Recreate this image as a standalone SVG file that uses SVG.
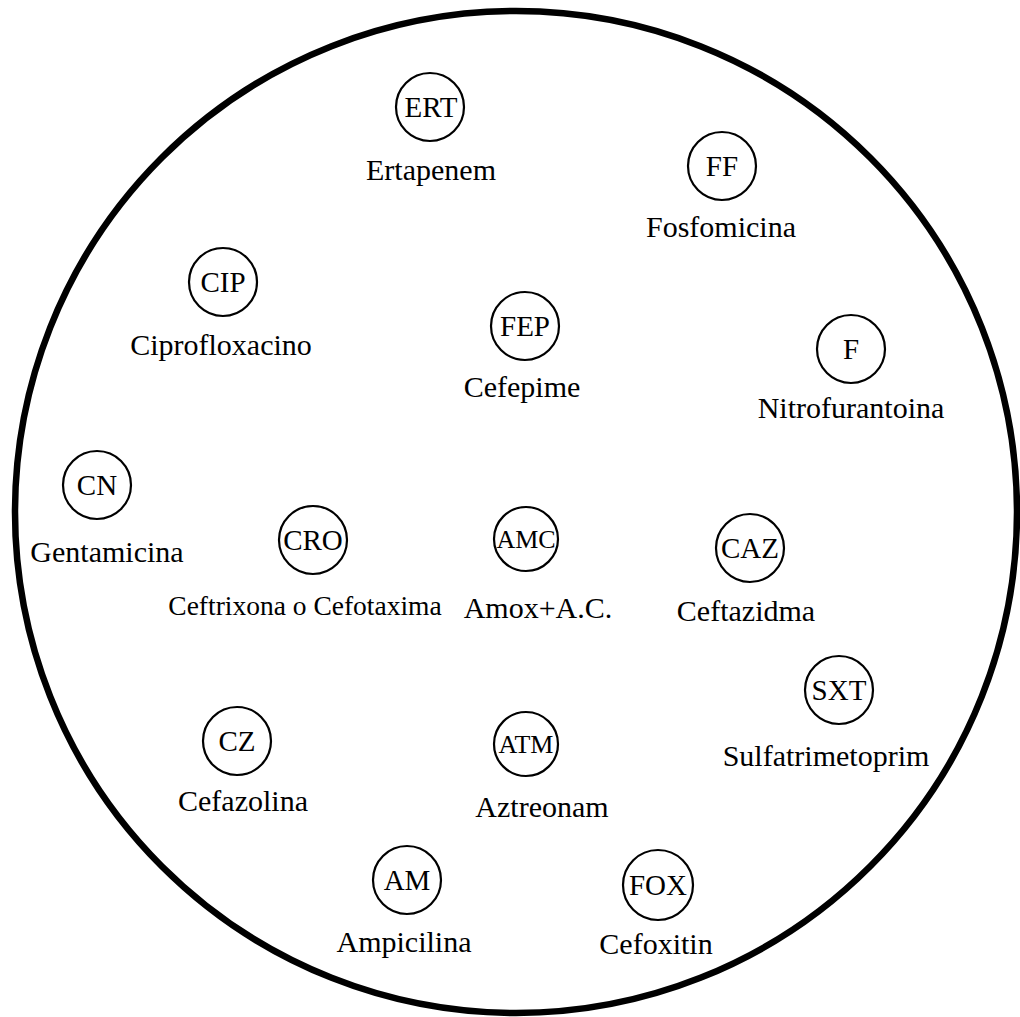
<svg xmlns="http://www.w3.org/2000/svg" width="1020" height="1017" viewBox="0 0 1020 1017">
<style>
.ring{fill:none;stroke:#000;stroke-width:2.2}
.code{font-family:'Liberation Serif','Tinos','DejaVu Serif',serif;font-size:29px;text-anchor:middle;fill:#000}
.lbl{font-family:'Liberation Serif','Tinos','DejaVu Serif',serif;font-size:30px;text-anchor:middle;fill:#000}
</style>
<rect width="1020" height="1017" fill="#fff"/>
<g id="plate"><circle cx="516" cy="512" r="501" fill="none" stroke="#000" stroke-width="6.5"/></g>
<g id="connectors"></g>
<g id="ERT"><circle class="ring" cx="430" cy="107" r="34"/><text class="code" x="431" y="117">ERT</text><text class="lbl" x="431" y="180">Ertapenem</text></g>
<g id="FF"><circle class="ring" cx="722" cy="166" r="34"/><text class="code" x="722" y="176">FF</text><text class="lbl" x="721" y="237">Fosfomicina</text></g>
<g id="CIP"><circle class="ring" cx="223" cy="282" r="34"/><text class="code" x="223" y="292">CIP</text><text class="lbl" x="221" y="355">Ciprofloxacino</text></g>
<g id="FEP"><circle class="ring" cx="525" cy="326" r="34"/><text class="code" x="525" y="336">FEP</text><text class="lbl" x="522" y="397">Cefepime</text></g>
<g id="F"><circle class="ring" cx="851" cy="349" r="34"/><text class="code" x="851" y="359">F</text><text class="lbl" x="851" y="418">Nitrofurantoina</text></g>
<g id="CN"><circle class="ring" cx="97" cy="485" r="34"/><text class="code" x="97" y="495">CN</text><text class="lbl" x="107" y="562">Gentamicina</text></g>
<g id="CRO"><circle class="ring" cx="313" cy="540" r="34"/><text class="code" x="313" y="550">CRO</text><text class="lbl" x="305" y="615" style="font-size:27.5px">Ceftrixona o Cefotaxima</text></g>
<g id="AMC"><circle class="ring" cx="526" cy="539" r="32"/><text class="code" x="526" y="548" style="font-size:26px">AMC</text><text class="lbl" x="538" y="618">Amox+A.C.</text></g>
<g id="CAZ"><circle class="ring" cx="750" cy="548" r="34"/><text class="code" x="750" y="558">CAZ</text><text class="lbl" x="746" y="621">Ceftazidma</text></g>
<g id="SXT"><circle class="ring" cx="839" cy="690" r="34"/><text class="code" x="839" y="700">SXT</text><text class="lbl" x="826" y="766">Sulfatrimetoprim</text></g>
<g id="CZ"><circle class="ring" cx="237" cy="741" r="34"/><text class="code" x="237" y="751">CZ</text><text class="lbl" x="243" y="811">Cefazolina</text></g>
<g id="ATM"><circle class="ring" cx="526" cy="744" r="32"/><text class="code" x="526" y="753" style="font-size:26px">ATM</text><text class="lbl" x="542" y="817">Aztreonam</text></g>
<g id="AM"><circle class="ring" cx="407" cy="880" r="34"/><text class="code" x="407" y="890">AM</text><text class="lbl" x="404" y="952">Ampicilina</text></g>
<g id="FOX"><circle class="ring" cx="658" cy="885" r="35"/><text class="code" x="658" y="895">FOX</text><text class="lbl" x="656" y="954">Cefoxitin</text></g>
</svg>
